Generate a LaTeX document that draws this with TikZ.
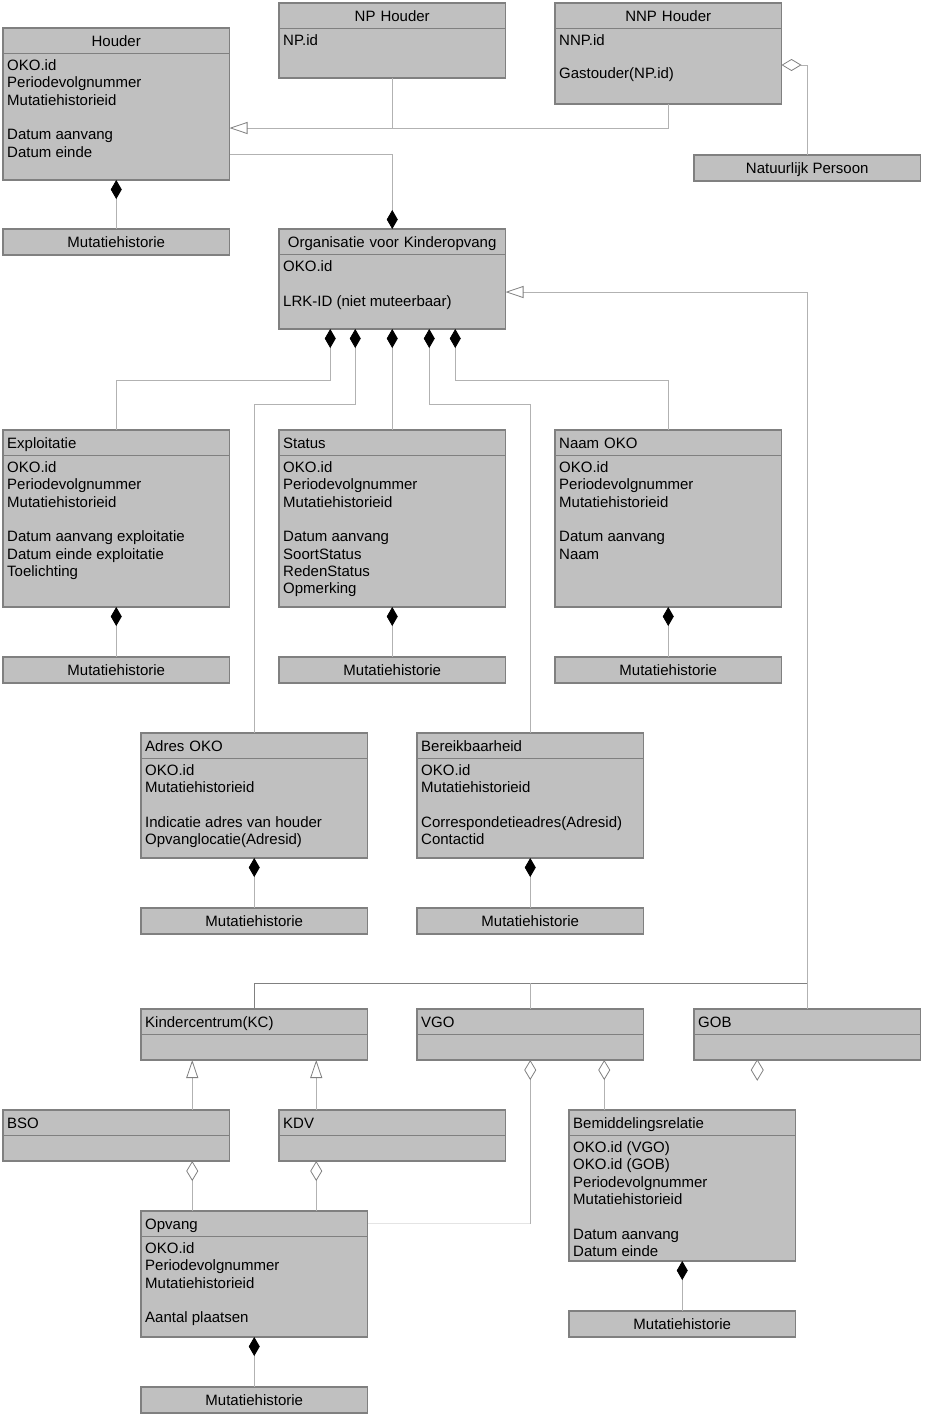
\documentclass[tikz,border=0pt]{standalone}
\usepackage{fontspec}
\setmainfont{Liberation Sans}
\usetikzlibrary{arrows.meta}

\definecolor{vlak}{RGB}{192,192,192}
\definecolor{rand}{RGB}{128,128,128}
\definecolor{lijnkl}{RGB}{178,178,178}
\definecolor{lijnlicht}{RGB}{228,228,228}

\tikzset{
  doos/.style={draw=rand, fill=vlak, line width=1.2pt, inner sep=0pt, outer sep=0pt,
    anchor=north west, minimum width=226.5pt},
  kop/.style={inner sep=0pt, text height=11pt, text depth=0pt},
  veld/.style={inner sep=0pt, anchor=north west, align=left},
  lijn/.style={draw=lijnkl, line width=0.8pt},
  comp/.style={lijn, {Diamond[length=19pt,width=11pt,color=black,fill=black]}-},
  aggr/.style={lijn, {Diamond[open,length=20pt,width=12pt,color=rand]}-},
  gen/.style={lijn, -{Triangle[open,length=18pt,width=12pt,color=rand]}},
}

% klasse: [uitlijning kop] naam, x, y, hoogte, kop, velden
\newcommand{\klasse}[7][left]{%
  \node[doos, minimum height=#5pt] (#2) at (#3,#4) {};
  \draw[rand, line width=1pt] ([yshift=-25.5pt]#2.north west) -- ([yshift=-25.5pt]#2.north east);
  \node[kop, text width=218pt, align=#1, anchor=west] (#2-kop) at ([xshift=4pt,yshift=-12.75pt]#2.north west) {#6};
  \node[veld] (#2-veld) at ([xshift=4pt,yshift=-31.5pt]#2.north west) {#7};
}

\begin{document}
\begin{tikzpicture}[x=1pt, y=-1pt, font=\fontsize{15}{17.3}\selectfont]
  \useasboundingbox (0,0) rectangle (925,1417);

  % klassen
  \klasse[center]{houder}{3}{28}{152}{Houder}{OKO.id\\Periodevolgnummer\\Mutatiehistorieid\\[17.3pt]Datum aanvang\\Datum einde}
  \klasse[center]{np}{279}{3}{75}{NP Houder}{NP.id}
  \klasse[center]{nnp}{555}{3}{101}{NNP Houder}{NNP.id\\[16pt]Gastouder(NP.id)}
  \klasse[center]{org}{279}{229}{100}{Organisatie voor Kinderopvang}{OKO.id\\[17.3pt]LRK-ID (niet muteerbaar)}
  \klasse{exploit}{3}{430}{177}{Exploitatie}{OKO.id\\Periodevolgnummer\\Mutatiehistorieid\\[17.3pt]Datum aanvang exploitatie\\Datum einde exploitatie\\Toelichting}
  \klasse{status}{279}{430}{177}{Status}{OKO.id\\Periodevolgnummer\\Mutatiehistorieid\\[17.3pt]Datum aanvang\\SoortStatus\\RedenStatus\\Opmerking}
  \klasse{naam}{555}{430}{177}{Naam OKO}{OKO.id\\Periodevolgnummer\\Mutatiehistorieid\\[17.3pt]Datum aanvang\\Naam}
  \klasse{adres}{141}{733}{125}{Adres OKO}{OKO.id\\Mutatiehistorieid\\[17.3pt]Indicatie adres van houder\\Opvanglocatie(Adresid)}
  \klasse{bereik}{417}{733}{125}{Bereikbaarheid}{OKO.id\\Mutatiehistorieid\\[17.3pt]Correspondetieadres(Adresid)\\Contactid}
  \klasse{kc}{141}{1009}{51}{Kindercentrum(KC)}{}
  \klasse{vgo}{417}{1009}{51}{VGO}{}
  \klasse{gob}{694}{1009}{51}{GOB}{}
  \klasse{bso}{3}{1110}{51}{BSO}{}
  \klasse{kdv}{279}{1110}{51}{KDV}{}
  \klasse{bemid}{569}{1110}{151}{Bemiddelingsrelatie}{OKO.id (VGO)\\OKO.id (GOB)\\Periodevolgnummer\\Mutatiehistorieid\\[17.3pt]Datum aanvang\\Datum einde}
  \klasse{opvang}{141}{1211}{126}{Opvang}{OKO.id\\Periodevolgnummer\\Mutatiehistorieid\\[17.3pt]Aantal plaatsen}

  \node[doos, kop, minimum height=26pt] (persoon) at (694,155) {Natuurlijk Persoon};
  \foreach \bron/\x/\y in {houder/3/229, exploit/3/657, status/279/657, naam/555/657,
      adres/141/908, bereik/417/908, bemid/569/1311, opvang/141/1387}
    \node[doos, kop, minimum height=26pt] (mh-\bron) at (\x,\y) {Mutatiehistorie};

  % houders
  \coordinate (houder-g) at ([yshift=-24pt]houder.east);
  \draw[gen] (nnp.south) |- (houder-g);
  \draw[lijn] (np.south) -- (np.south |- houder-g);
  \draw[aggr] ([yshift=-11.5pt]nnp.east) -| (persoon.north);
  \draw[comp] (org.north) |- ([yshift=-50pt]houder.east);

  % onderdelen van de organisatie
  \foreach \dx/\dy/\doel in {-62/51/exploit, -37/75/adres, 0/20/status, 37/75/bereik, 63/51/naam}
    \draw[comp] ([xshift=\dx pt]org.south) -- ++(0,\dy) -| (\doel.north);

  % mutatiehistorie
  \foreach \bron in {houder, exploit, status, naam, adres, bereik, bemid, opvang}
    \draw[comp] (\bron.south) -- (mh-\bron.north);

  % soorten organisatie
  \coordinate (splits) at ([yshift=26pt]gob.north);
  \draw[gen] (gob.north) |- ([yshift=-13pt]org.east);
  \draw[lijn, draw=rand] (kc.north) |- (splits);
  \draw[lijn] (vgo.north) -- (vgo.north |- splits);

  % kindercentrum
  \coordinate (kc-l) at ([xshift=-62pt]kc.south);
  \coordinate (kc-r) at ([xshift=62pt]kc.south);
  \draw[gen] (kc-l |- bso.north) -- (kc-l);
  \draw[gen] (kc-r |- kdv.north) -- (kc-r);
  \draw[aggr] (kc-l |- bso.south) -- (kc-l |- opvang.north);
  \draw[aggr] (kc-r |- kdv.south) -- (kc-r |- opvang.north);

  % gastouderbureau
  \coordinate (vgo-r) at ([xshift=74pt]vgo.south);
  \coordinate (opvang-v) at ([yshift=-12.75pt]opvang.north east);
  \draw[aggr] (vgo.south) -- (vgo.south |- opvang-v);
  \draw[lijn, draw=lijnlicht] (vgo.south |- opvang-v) -- (opvang-v);
  \draw[aggr] (vgo-r) -- (vgo-r |- bemid.north);
  \draw[rand, line width=0.8pt] ([xshift=-50pt]gob.south) -- ++(-6,10) -- ++(6,10) -- ++(6,-10) -- cycle;
\end{tikzpicture}
\end{document}
